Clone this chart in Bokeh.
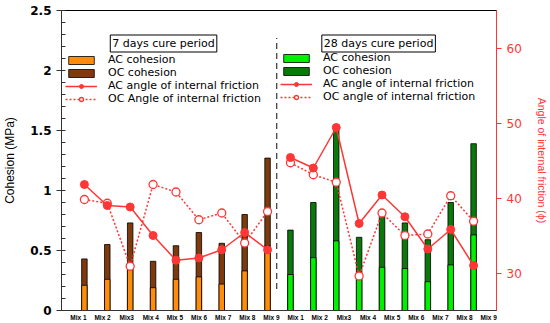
from bokeh.plotting import figure
from bokeh.models import (Range1d, LinearAxis, FixedTicker, SingleIntervalTicker,
                          Legend, LegendItem, Label)
from bokeh.embed import file_html
from bokeh.resources import INLINE

# ---------------- data ----------------
mix_labels_7 = ["Mix 1", "Mix 2", "Mix3", "Mix 4", "Mix 5", "Mix 6", "Mix 7", "Mix 8", "Mix 9"]
mix_labels_28 = ["Mix 1", "Mix 2", "Mix3", "Mix 4", "Mix 5", "Mix 6", "Mix 7", "Mix 8", "Mix 9"]

# cohesion (MPa)
ac_coh_7 = [0.21, 0.26, 0.35, 0.19, 0.26, 0.28, 0.22, 0.33, 0.54]
oc_coh_7 = [0.43, 0.55, 0.73, 0.41, 0.54, 0.65, 0.56, 0.80, 1.27]
ac_coh_28 = [0.30, 0.44, 0.58, 0.27, 0.36, 0.35, 0.24, 0.38, 0.63]
oc_coh_28 = [0.67, 0.90, 1.50, 0.61, 0.79, 0.73, 0.59, 0.90, 1.39]

# angle of internal friction (deg)
ac_phi_7 = [41.8, 39.0, 38.8, 35.0, 31.7, 32.0, 33.1, 35.4, 33.1]
oc_phi_7 = [39.8, 39.3, 30.9, 41.8, 40.8, 37.1, 38.0, 34.0, 38.2]
ac_phi_28 = [45.4, 44.0, 49.4, 36.6, 40.4, 37.5, 33.2, 35.8, 31.0]
oc_phi_28 = [44.7, 43.1, 42.1, 29.6, 38.0, 35.0, 35.2, 40.3, 36.9]

# category slots: 7-day group then 28-day group
x7 = list(range(1, len(mix_labels_7) + 1))
x28 = list(range(len(mix_labels_7) + 1, len(mix_labels_7) + len(mix_labels_28) + 1))
all_labels = mix_labels_7 + mix_labels_28

# ---------------- style ----------------
ORANGE = "#FF8C0A"
BROWN = "#7E3A0C"
LGREEN = "#00F000"
DGREEN = "#0A780A"
RED = "#FF3636"
AXC = "#333333"
FONT = "DejaVu Sans"
BAR_W = 0.24

p = figure(width=550, height=323, x_range=Range1d(0, len(all_labels) + 1),
           y_range=Range1d(0, 2.5), output_backend="svg", toolbar_location=None,
           min_border_left=60, min_border_right=52, min_border_top=10, min_border_bottom=13)
p.extra_y_ranges = {"phi": Range1d(25, 65)}
p.grid.visible = False
p.outline_line_color = "black"
p.outline_line_width = 1
p.background_fill_color = "white"
p.border_fill_color = "white"

# bars (OC full height behind, AC in front)
oc7 = p.vbar(x=x7, top=oc_coh_7, width=BAR_W, fill_color=BROWN, line_color="black", line_width=0.8)
ac7 = p.vbar(x=x7, top=ac_coh_7, width=BAR_W, fill_color=ORANGE, line_color="black", line_width=0.8)
oc28 = p.vbar(x=x28, top=oc_coh_28, width=BAR_W, fill_color=DGREEN, line_color="black", line_width=0.8)
ac28 = p.vbar(x=x28, top=ac_coh_28, width=BAR_W, fill_color=LGREEN, line_color="black", line_width=0.8)

# separator between the two curing periods
sep_x = len(mix_labels_7) + 0.4
p.segment(x0=[sep_x], x1=[sep_x], y0=[0.18], y1=[2.27], line_color=AXC,
          line_width=1.2, line_dash="6 4")

# friction angle lines
ocl7 = p.line(x7, oc_phi_7, y_range_name="phi", line_color=RED, line_width=1.5, line_dash="2 2")
ocm7 = p.scatter(x7, oc_phi_7, y_range_name="phi", size=8, fill_color="white", line_color=RED, line_width=1.3)
acl7 = p.line(x7, ac_phi_7, y_range_name="phi", line_color=RED, line_width=1.5)
acm7 = p.scatter(x7, ac_phi_7, y_range_name="phi", size=8, fill_color=RED, line_color=RED)

ocl28 = p.line(x28, oc_phi_28, y_range_name="phi", line_color=RED, line_width=1.5, line_dash="2 2")
ocm28 = p.scatter(x28, oc_phi_28, y_range_name="phi", size=8, fill_color="white", line_color=RED, line_width=1.3)
acl28 = p.line(x28, ac_phi_28, y_range_name="phi", line_color=RED, line_width=1.5)
acm28 = p.scatter(x28, ac_phi_28, y_range_name="phi", size=8, fill_color=RED, line_color=RED)

# ---------------- axes ----------------
yax = p.yaxis[0]
yax.ticker = SingleIntervalTicker(interval=0.5, num_minor_ticks=5)
yax.axis_label = "Cohesion (MPa)"
yax.axis_label_text_font = "Liberation Sans"
yax.axis_label_text_font_size = "12px"
yax.axis_label_text_font_style = "normal"
yax.axis_label_text_color = "black"
yax.axis_label_standoff = 10
yax.major_label_text_font = FONT
yax.major_label_text_font_style = "bold"
yax.major_label_text_font_size = "12px"
yax.major_label_text_color = "black"
yax.major_label_standoff = 5
yax.axis_line_color = AXC
yax.major_tick_line_color = AXC
yax.minor_tick_line_color = AXC
yax.major_tick_out = 5
yax.major_tick_in = 0
yax.minor_tick_in = 4
yax.minor_tick_out = 0

# x labels on a uniform grid slightly wider than the bar grid (as in the source figure)
lab_x0 = 0.74
lab_step = 1.054
tick_pos = [round(lab_x0 + lab_step * k, 4) for k in range(len(all_labels))]
xax = p.xaxis[0]
xax.ticker = FixedTicker(ticks=tick_pos)
xax.major_label_overrides = {t: lab for t, lab in zip(tick_pos, all_labels)}
xax.major_tick_line_color = None
xax.minor_tick_line_color = None
xax.major_tick_out = 0
xax.major_tick_in = 0
xax.minor_tick_out = 0
xax.minor_tick_in = 0
xax.major_label_text_font = "Liberation Sans"
xax.major_label_text_font_style = "bold"
xax.major_label_text_font_size = "6.5px"
xax.major_label_text_color = "black"
xax.major_label_standoff = 3
xax.axis_line_color = AXC

rax = LinearAxis(y_range_name="phi", ticker=FixedTicker(ticks=[30, 40, 50, 60]),
                 axis_label="Angle of internal friction (ϕ)")
rax.axis_line_color = RED
rax.major_tick_line_color = RED
rax.minor_tick_line_color = None
rax.minor_tick_out = 0
rax.minor_tick_in = 0
rax.major_tick_out = 5
rax.major_tick_in = 0
rax.major_label_text_color = RED
rax.major_label_text_font = FONT
rax.major_label_text_font_size = "12px"
rax.major_label_standoff = 5
rax.axis_label_text_color = RED
rax.axis_label_text_font = "Liberation Sans"
rax.axis_label_text_font_size = "10.5px"
rax.axis_label_text_font_style = "normal"
rax.axis_label_standoff = 11
p.add_layout(rax, "right")

# ---------------- legends ----------------
def make_legend(items, loc):
    return Legend(items=items, location=loc, border_line_color=None,
                  background_fill_alpha=0, padding=0, margin=0, spacing=0,
                  glyph_width=32, glyph_height=10, label_height=10, label_standoff=11,
                  label_text_font=FONT, label_text_font_size="11px",
                  label_text_color="black")

leg7 = make_legend([
    LegendItem(label="AC cohesion", renderers=[ac7]),
    LegendItem(label="OC cohesion", renderers=[oc7]),
    LegendItem(label="AC angle of internal friction", renderers=[acl7, acm7]),
    LegendItem(label="OC Angle of internal friction", renderers=[ocl7, ocm7]),
], (4, 205))
leg28 = make_legend([
    LegendItem(label="AC cohesion", renderers=[ac28]),
    LegendItem(label="OC cohesion", renderers=[oc28]),
    LegendItem(label="AC angle of internal friction", renderers=[acl28, acm28]),
    LegendItem(label="OC angle of internal friction", renderers=[ocl28, ocm28]),
], (219, 207))
p.add_layout(leg7)
p.add_layout(leg28)

for tx, txt in [(2.13, "7 days cure period"), (11.37, "28 days cure period")]:
    p.add_layout(Label(x=tx, y=2.225, text=txt, text_font=FONT, text_font_size="11px",
                       text_baseline="middle", text_align="left", text_color="black",
                       border_line_color="black", border_line_width=1,
                       background_fill_color="white", padding=2))

open("out.html", "w").write(file_html(p, INLINE))
